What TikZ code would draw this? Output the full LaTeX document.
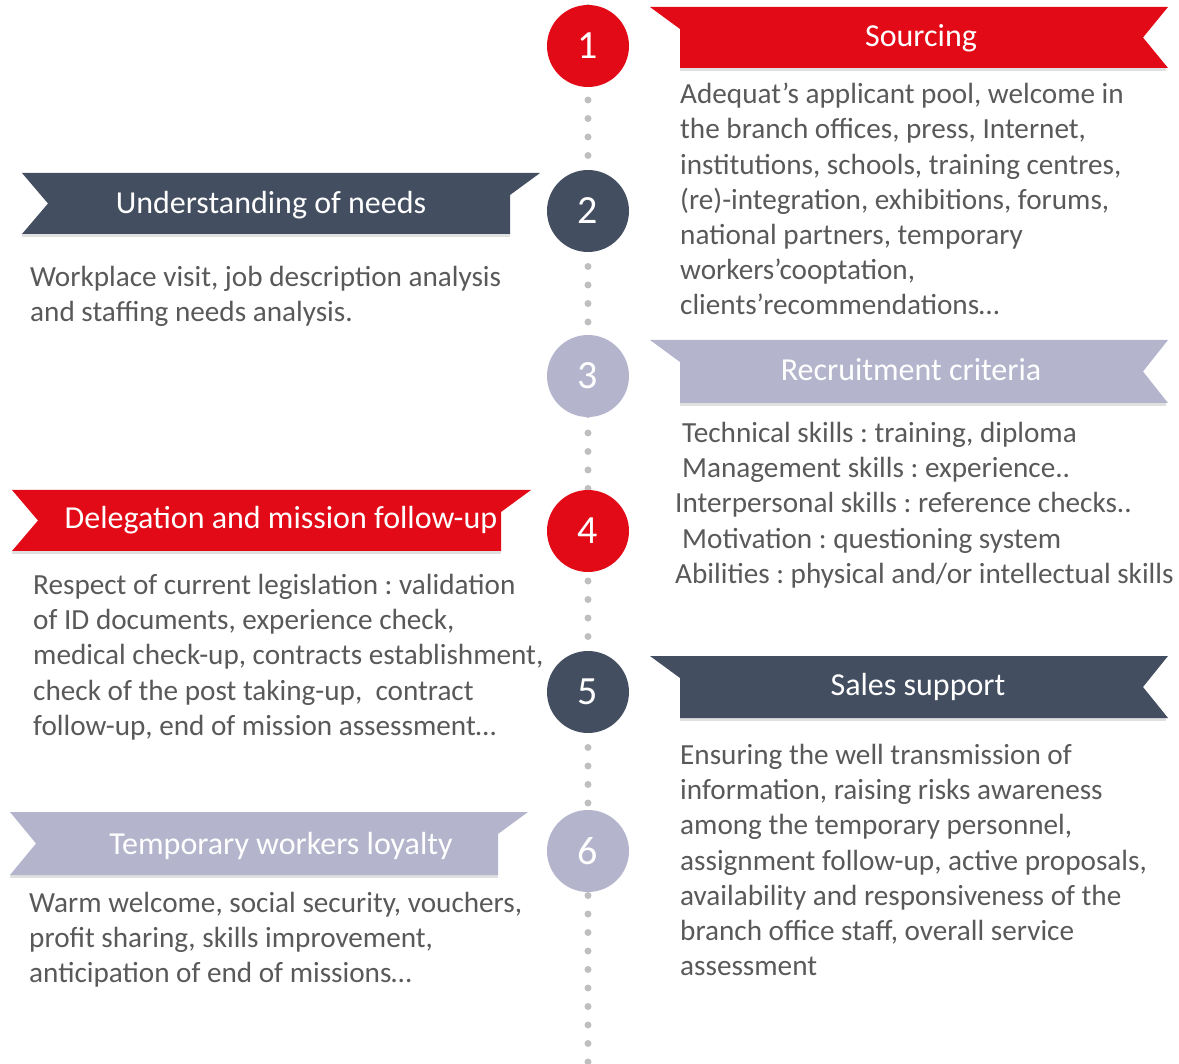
\documentclass[tikz,border=0pt]{standalone}
\usepackage{fontspec}
\setmainfont{Carlito}
\frenchspacing
\definecolor{adred}{HTML}{E20A16}
\definecolor{adslate}{HTML}{434E60}
\definecolor{adlilac}{HTML}{B4B5CC}
\definecolor{adtext}{HTML}{595959}
\definecolor{addot}{HTML}{BFBFBF}
\begin{document}
\begin{tikzpicture}[x=1pt, y=-1pt,
    stepdot/.style={circle, minimum size=82pt, inner sep=0pt, text=white, font=\fontsize{40}{42}\selectfont},
    ribtitle/.style={text=white, inner sep=0pt, font=\fontsize{32}{36}\selectfont},
    bodytext/.style={text=adtext, align=left, anchor=north west, inner sep=0pt, font=\fontsize{29.2}{35.2}\selectfont},
    ribshadow/.style={fill=black!12}]
    \useasboundingbox (0,0) rectangle (1179,1064);

    % Draw dotted timeline
    \coordinate (ltop) at (588,7.5);
    \coordinate (lbot) at (588,1064);
    \draw[addot, line width=7pt, line cap=round, dash pattern=on 0pt off 18.5pt] (ltop) -- (lbot);

    % Draw ribbons
    \fill[ribshadow] (680,68) rectangle (1166,71);
    \fill[adred] (650,7) -- (1168,7) -- (1143,37.5) -- (1168,68) -- (680,68) -- (680,29) -- cycle;

    \fill[ribshadow] (22,234) rectangle (510,237);
    \fill[adslate] (22,173) -- (540,173) -- (510,195) -- (510,234) -- (22,234) -- (48,203.5) -- cycle;

    \fill[ribshadow] (680,403) rectangle (1166,406);
    \fill[adlilac] (650,340) -- (1168,340) -- (1143,371.5) -- (1168,403) -- (680,403) -- (680,362) -- cycle;

    \fill[ribshadow] (12,551) rectangle (501,554);
    \fill[adred] (12,490) -- (531,490) -- (501,512) -- (501,551) -- (12,551) -- (38,520.5) -- cycle;

    \fill[ribshadow] (680,718) rectangle (1166,721);
    \fill[adslate] (650,656) -- (1168,656) -- (1143,687) -- (1168,718) -- (680,718) -- (680,678) -- cycle;

    \fill[ribshadow] (10,875) rectangle (498,878);
    \fill[adlilac] (10,812) -- (528,812) -- (498,834) -- (498,875) -- (10,875) -- (36,843.5) -- cycle;

    % Ribbon titles
    \node[ribtitle] (sourcing) at (921,38) {Sourcing};
    \node[ribtitle] (needs) at (271,205) {Understanding of needs};
    \node[ribtitle] (criteria) at (911,370) {Recruitment criteria};
    \node[ribtitle] (delegation) at (281,520) {Delegation and mission follow-up};
    \node[ribtitle] (sales) at (918,687) {Sales support};
    \node[ribtitle] (loyalty) at (281,846) {Temporary workers loyalty};

    % Step circles
    \node[stepdot, fill=adred] (s1) at (588,46) {1};
    \node[stepdot, fill=adslate] (s2) at (588,211) {2};
    \node[stepdot, fill=adlilac] (s3) at (588,376) {3};
    \node[stepdot, fill=adred] (s4) at (588,531) {4};
    \node[stepdot, fill=adslate] (s5) at (588,692) {5};
    \node[stepdot, fill=adlilac] (s6) at (588,851) {6};

    % Body texts
    \node[bodytext] (sourcingtxt) at (680,83) {Adequat’s applicant pool, welcome in\\the branch offices, press, Internet,\\institutions, schools, training centres,\\(re)-integration, exhibitions, forums,\\national partners, temporary\\workers’cooptation,\\clients’recommendations…};
    \node[bodytext] (needstxt) at (30,266) {Workplace visit, job description analysis\\and staffing needs analysis.};
    \node[bodytext] (criteriatxt) at (675,422) {\hspace*{7pt}Technical skills : training, diploma\\\hspace*{7pt}Management skills : experience..\\Interpersonal skills : reference checks..\\\hspace*{7pt}Motivation : questioning system\\Abilities : physical and/or intellectual skills};
    \node[bodytext] (delegationtxt) at (33,574) {Respect of current legislation : validation\\of ID documents, experience check,\\medical check-up, contracts establishment,\\check of the post taking-up, \ contract\\follow-up, end of mission assessment…};
    \node[bodytext] (salestxt) at (680,744) {Ensuring the well transmission of\\information, raising risks awareness\\among the temporary personnel,\\assignment follow-up, active proposals,\\availability and responsiveness of the\\branch office staff, overall service\\assessment};
    \node[bodytext] (loyaltytxt) at (29,892) {Warm welcome, social security, vouchers,\\profit sharing, skills improvement,\\anticipation of end of missions…};
\end{tikzpicture}
\end{document}
